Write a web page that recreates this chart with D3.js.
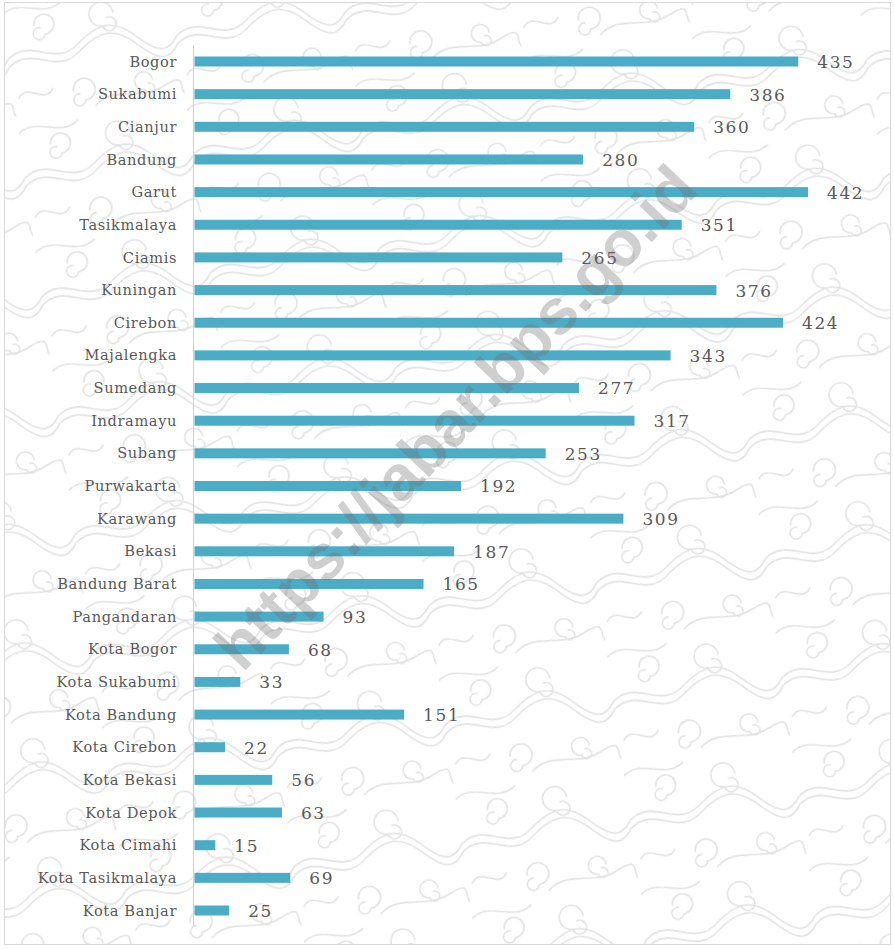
<!DOCTYPE html>
<html>
<head>
<meta charset="utf-8">
<script src="https://cdn.jsdelivr.net/npm/d3@7"></script>
<style>
  html, body { margin: 0; padding: 0; background: #ffffff; }
  svg { display: block; }
</style>
</head>
<body>
<div id="chart"></div>
<script>
const categories = ["Bogor","Sukabumi","Cianjur","Bandung","Garut","Tasikmalaya","Ciamis","Kuningan","Cirebon","Majalengka","Sumedang","Indramayu","Subang","Purwakarta","Karawang","Bekasi","Bandung Barat","Pangandaran","Kota Bogor","Kota Sukabumi","Kota Bandung","Kota Cirebon","Kota Bekasi","Kota Depok","Kota Cimahi","Kota Tasikmalaya","Kota Banjar"];
const values = [435,386,360,280,442,351,265,376,424,343,277,317,253,192,309,187,165,93,68,33,151,22,56,63,15,69,25];
const watermarkText = "https://jabar.bps.go.id";

const W = 894, H = 949;
const svg = d3.select("#chart").append("svg").attr("width", W).attr("height", H);

// decorative batik-like background pattern (mega mendung style clouds)
const defs = svg.append("defs");
const pat = defs.append("pattern").attr("id", "batik").attr("patternUnits", "userSpaceOnUse")
  .attr("width", 170).attr("height", 120).attr("patternTransform", "rotate(-8)");
const pg = pat.append("g").attr("fill", "none").attr("stroke", "#e2e2e2").attr("stroke-width", 1.6)
  .attr("stroke-linecap", "round");
[
  "M0,60 C25,40 45,75 70,55 S110,35 130,55 S160,75 170,60",
  "M0,68 C25,48 45,83 70,63 S110,43 130,63 S160,83 170,68",
  "M30,30 a10,10 0 1,1 10,10 a6,6 0 1,1 -4,-7",
  "M110,28 a12,12 0 1,0 -12,12 a7,7 0 1,0 5,-8",
  "M60,100 a11,11 0 1,1 11,11 a6,6 0 1,1 -5,-7",
  "M140,100 a9,9 0 1,0 -9,9 a5,5 0 1,0 4,-6",
  "M0,15 C20,0 40,25 60,10",
  "M80,118 C100,100 125,120 150,108 S165,112 170,118",
  "M5,100 C15,85 30,110 40,95"
].forEach(p => pg.append("path").attr("d", p));

svg.append("rect").attr("x", 0).attr("y", 0).attr("width", W).attr("height", H).attr("fill", "#ffffff");
svg.append("rect").attr("x", 4.5).attr("y", 2.5).attr("width", 886).attr("height", 942)
  .attr("fill", "url(#batik)").attr("stroke", "#d9d9d9").attr("stroke-width", 1);

const x = d3.scaleLinear().domain([0, 442]).range([194.5, 808]);
const y = d3.scalePoint().domain(categories).range([61.5, 910.5]);
const barH = 10;

const data = categories.map((c, i) => ({ c, v: values[i] }));

// axis line
svg.append("line").attr("x1", 193.5).attr("x2", 193.5).attr("y1", 45).attr("y2", 926)
  .attr("stroke", "#d0d0d0").attr("stroke-width", 1);

svg.selectAll("rect.bar").data(data).join("rect").attr("class", "bar")
  .attr("x", x(0)).attr("y", d => y(d.c) - barH / 2)
  .attr("width", d => x(d.v) - x(0)).attr("height", barH)
  .attr("fill", "#4bacc6");

svg.selectAll("text.cat").data(data).join("text").attr("class", "cat")
  .attr("x", 177).attr("y", d => y(d.c)).attr("dy", "0.35em")
  .attr("text-anchor", "end")
  .style("font-family", "'DejaVu Serif', serif").style("font-size", "14.6px")
  .style("letter-spacing", "0.6px")
  .attr("fill", "#595959").text(d => d.c);

svg.selectAll("text.val").data(data).join("text").attr("class", "val")
  .attr("x", d => x(d.v) + 19).attr("y", d => y(d.c)).attr("dy", "0.38em")
  .style("font-family", "'DejaVu Serif', serif").style("font-size", "17px")
  .style("letter-spacing", "1.6px")
  .attr("fill", "#595959").text(d => d.v);

// watermark
svg.append("text").attr("transform", "translate(455,417) rotate(-46.5)")
  .attr("text-anchor", "middle").attr("dy", "0.35em")
  .style("font-family", "'Liberation Sans', Arial, sans-serif").style("font-weight", "bold")
  .style("font-size", "64px")
  .attr("fill", "rgba(110,110,110,0.33)").text(watermarkText);
</script>
</body>
</html>
